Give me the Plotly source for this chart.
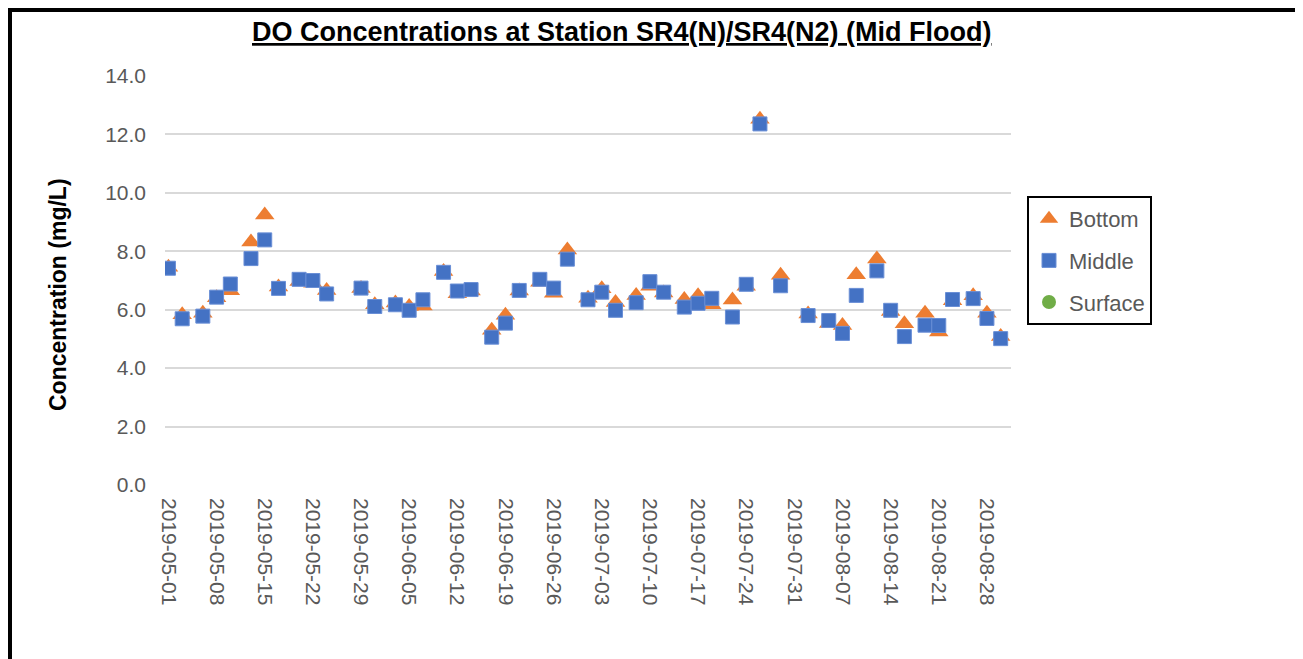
import plotly.graph_objects as go

dates = [
    "2019-05-01", "2019-05-03", "2019-05-06", "2019-05-08", "2019-05-10", "2019-05-13",
    "2019-05-15", "2019-05-17", "2019-05-20", "2019-05-22", "2019-05-24", "2019-05-29",
    "2019-05-31", "2019-06-03", "2019-06-05", "2019-06-07", "2019-06-10", "2019-06-12",
    "2019-06-14", "2019-06-17", "2019-06-19", "2019-06-21", "2019-06-24", "2019-06-26",
    "2019-06-28", "2019-07-01", "2019-07-03", "2019-07-05", "2019-07-08", "2019-07-10",
    "2019-07-12", "2019-07-15", "2019-07-17", "2019-07-19", "2019-07-22", "2019-07-24",
    "2019-07-26", "2019-07-29", "2019-08-02", "2019-08-05", "2019-08-07", "2019-08-09",
    "2019-08-12", "2019-08-14", "2019-08-16", "2019-08-19", "2019-08-21", "2019-08-23",
    "2019-08-26", "2019-08-28", "2019-08-30",
]

bottom = [
    7.45, 5.83, 5.88, 6.41, 6.65, 8.32, 9.24, 6.78, 6.97, 6.91, 6.66, 6.73,
    6.17, 6.23, 6.11, 6.13, 7.31, 6.55, 6.64, 5.30, 5.81, 6.64, 6.94, 6.56,
    8.04, 6.39, 6.72, 6.25, 6.49, 6.80, 6.57, 6.35, 6.48, 6.17, 6.33, 6.80,
    12.52, 7.18, 5.85, 5.53, 5.46, 7.20, 7.74, 5.94, 5.52, 5.88, 5.24, 6.31,
    6.48, 5.88, 5.08,
]

middle = [
    7.42, 5.69, 5.78, 6.43, 6.88, 7.75, 8.39, 6.73, 7.04, 7.00, 6.54, 6.74,
    6.11, 6.17, 5.98, 6.34, 7.28, 6.64, 6.69, 5.06, 5.54, 6.66, 7.04, 6.74,
    7.73, 6.34, 6.60, 5.98, 6.24, 6.96, 6.60, 6.09, 6.22, 6.39, 5.75, 6.87,
    12.36, 6.82, 5.80, 5.63, 5.19, 6.49, 7.33, 5.98, 5.08, 5.47, 5.46, 6.35,
    6.38, 5.70, 5.01,
]

surface = [None] * len(dates)

title_text = "DO Concentrations at Station SR4(N)/SR4(N2) (Mid Flood)"
y_title = "Concentration (mg/L)"

# page has an 8px body margin; work in screen coordinates and shift
OFF = 8
W, H = 1303 - OFF, 659 - OFF
L, R, T, B = 165 - OFF, 1011 - OFF, 76 - OFF, 485 - OFF
pw, ph = R - L, B - T

def px(x):
    return (x - OFF - L) / pw

def py(y):
    return (B - (y - OFF)) / ph

fig = go.Figure()
fig.add_trace(go.Scatter(
    x=dates, y=bottom, mode="markers", name="Bottom", legendgroup="b",
    marker=dict(symbol="triangle-up", size=17, color="#ED7D31",
                line=dict(width=0)),
))
fig.add_trace(go.Scatter(
    x=dates, y=middle, mode="markers", name="Middle", legendgroup="m",
    marker=dict(symbol="square", size=14, color="#4472C4",
                line=dict(width=1, color="#6A8FD6")),
))
fig.add_trace(go.Scatter(
    x=dates, y=surface, mode="markers", name="Surface", legendgroup="s",
    marker=dict(symbol="circle", size=14, color="#70AD47"),
))

font_family = "Liberation Sans, Arial, sans-serif"

fig.update_layout(
    width=W, height=H,
    margin=dict(l=L, r=W - R, t=T, b=H - B),
    paper_bgcolor="white", plot_bgcolor="white",
    font=dict(family=font_family, color="#595959"),
    showlegend=True,
    legend=dict(
        x=px(1027), y=py(196), xanchor="left", yanchor="top",
        bordercolor="black", borderwidth=2,
        font=dict(size=22, color="#595959", family=font_family),
        tracegroupgap=10, traceorder="grouped",
    ),
    xaxis=dict(
        type="date",
        range=["2019-04-30 12:00", "2019-08-31 12:00"],
        tick0="2019-05-01", dtick=7 * 24 * 3600 * 1000,
        tickformat="%Y-%m-%d", tickangle=90,
        tickfont=dict(size=21, color="#595959"),
        showgrid=False, zeroline=False, showline=False, ticks="",
        ticklabelstandoff=12,
    ),
    yaxis=dict(
        range=[0, 14], dtick=2, tickformat=".1f",
        tickfont=dict(size=21, color="#595959"),
        showgrid=True, gridcolor="#D9D9D9", gridwidth=1.5,
        zeroline=False, showline=False, ticks="",
        ticklabelstandoff=18,
    ),
    annotations=[
        dict(text="<b><u>" + title_text + "</u></b>", x=px(622), y=py(32),
             xref="paper", yref="paper", showarrow=False,
             xanchor="center", yanchor="middle",
             font=dict(size=27, color="black", family=font_family)),
        dict(text="<b>" + y_title + "</b>", x=px(58), y=py(295),
             xref="paper", yref="paper", showarrow=False, textangle=-90,
             xanchor="center", yanchor="middle",
             font=dict(size=23, color="black", family=font_family)),
    ],
    shapes=[
        dict(type="rect", xref="paper", yref="paper",
             x0=px(8), x1=px(12), y0=py(700), y1=py(8),
             fillcolor="black", line=dict(width=0)),
        dict(type="rect", xref="paper", yref="paper",
             x0=px(8), x1=px(1310), y0=py(12), y1=py(8),
             fillcolor="black", line=dict(width=0)),
    ],
)

fig.write_html("out.html")
